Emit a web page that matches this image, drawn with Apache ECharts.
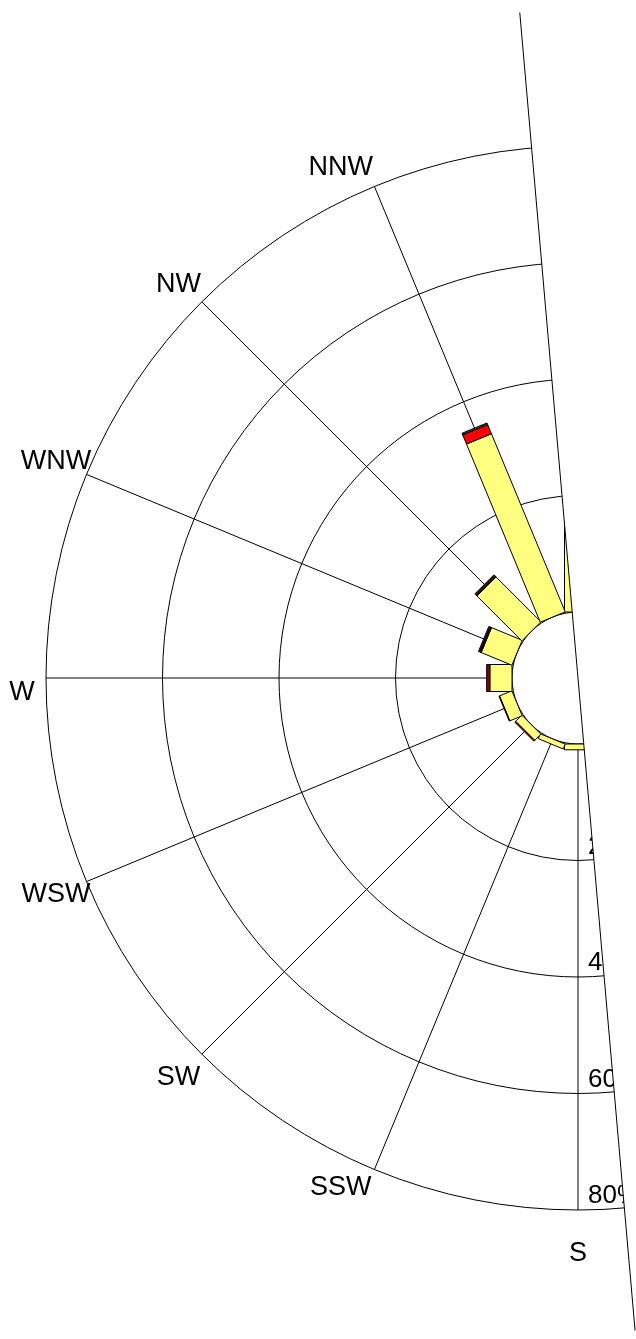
<!DOCTYPE html>
<html><head><meta charset="utf-8">
<script src="https://cdn.jsdelivr.net/npm/echarts@6/dist/echarts.min.js"></script>
<style>html,body{margin:0;padding:0;background:#fff}#c{width:636px;height:1339px}</style>
</head><body><div id="c"></div>
<script>
// ---- data ----
const directions = ['N','NNE','NE','ENE','E','ESE','SE','SSE','S','SSW','SW','WSW','W','WNW','NW','NNW'];
const binNames = ['bin 1','bin 2','bin 3','bin 4'];
const binYellow  = [18, 0, 0, 0, 0, 0, 0, 0, 1.0, 0.9, 1.5, 2.3, 3.8, 5.7, 10.9, 33.1];
const binDarkRed = [0,  0, 0, 0, 0, 0, 0, 0, 0,   0,   0,   0,   0.55,0.1, 0.1,  0];
const binRed     = [0,  0, 0, 0, 0, 0, 0, 0, 0,   0,   0.2, 0.1, 0,   0.2, 0.2,  1.7];
const binGreen   = [0,  0, 0, 0, 0, 0, 0, 0, 0,   0,   0,   0,   0,   0.2, 0.2,  0.3];
const ringTicks  = [20, 40, 60, 80];
const ringLabels = ['20', '40', '60', '80%'];

// ---- styles / layout ----
const bins = [binYellow, binDarkRed, binRed, binGreen];
const binColors = ['#FFFF80', '#8B0000', '#FF0000', '#1E5A28'];
const CX = 578, CY = 678, R0 = 66, R1 = 532, RLAB = 565;
const FONT = "'Liberation Sans', Arial, sans-serif";
const labelNudge = { NNW: [-21, 12], SSW: [-21, -12], W: [9, 15], S: [0, 11], NW: [0, 6] };
const halfWidth = 13.5;

function barSeries(k) {
  const data = [];
  directions.forEach((d, i) => {
    let base = 0;
    for (let j = 0; j < k; j++) base += bins[j][i];
    const v = bins[k][i];
    if (v > 0) data.push([i * 22.5, base, base + v]);
  });
  return {
    type: 'custom', coordinateSystem: 'polar', polarIndex: 0, name: binNames[k], z: 3,
    encode: { angle: 0, radius: [1, 2] },
    data,
    renderItem(params, api) {
      const ang = api.value(0), a = api.value(1), b = api.value(2);
      const cs = params.coordSys;
      const p0 = api.coord([a, ang]), p1 = api.coord([b, ang]);
      let ux = p1[0] - cs.cx, uy = p1[1] - cs.cy;
      const L = Math.hypot(ux, uy); ux /= L; uy /= L;
      const nx = -uy * halfWidth, ny = ux * halfWidth;
      return {
        type: 'polygon',
        shape: { points: [[p0[0] + nx, p0[1] + ny], [p1[0] + nx, p1[1] + ny], [p1[0] - nx, p1[1] - ny], [p0[0] - nx, p0[1] - ny]] },
        style: { fill: binColors[k], stroke: '#000', lineWidth: 1 }
      };
    }
  };
}

// clip line through center, tilted 5 degrees
const t = 5 * Math.PI / 180;
const dx = -Math.sin(t), dy = -Math.cos(t);
const topPt = [CX + dx * 668, CY + dy * 668];
const botPt = [CX - dx * 655, CY - dy * 655];
const ext = (y) => CX + (y - CY) * (dx / dy);
const clipPoly = [[ext(-20), -20], [700, -20], [700, 1360], [ext(1360), 1360]];

const hidden = { axisLine: { show: false }, axisTick: { show: false }, axisLabel: { show: false }, splitLine: { show: false } };

const chart = echarts.init(document.getElementById('c'), null, { renderer: 'canvas' });
chart.setOption({
  animation: false,
  backgroundColor: '#fff',
  polar: [
    { center: [CX, CY], radius: [R0, R1] },
    { center: [CX, CY], radius: [0, RLAB] }
  ],
  angleAxis: [
    {
      polarIndex: 0, type: 'value', min: 0, max: 360, interval: 22.5, startAngle: 90, clockwise: true,
      axisLine: { show: false }, axisTick: { show: false }, axisLabel: { show: false },
      splitLine: { show: true, lineStyle: { color: '#000', width: 1 } }
    },
    Object.assign({ polarIndex: 1, type: 'value', min: 0, max: 360, startAngle: 90, clockwise: true }, hidden)
  ],
  radiusAxis: [
    {
      polarIndex: 0, type: 'value', min: 0, max: 80, interval: 20,
      axisLine: { show: false }, axisTick: { show: false }, axisLabel: { show: false },
      splitLine: { show: true, lineStyle: { color: '#000', width: 1 } }
    },
    Object.assign({ polarIndex: 1, type: 'value', min: 0, max: 1 }, hidden)
  ],
  series: [
    barSeries(0), barSeries(1), barSeries(2), barSeries(3),
    {
      type: 'scatter', coordinateSystem: 'polar', polarIndex: 1, symbolSize: 0, silent: true, z: 4,
      itemStyle: { opacity: 1 },
      data: directions.map((d, i) => ({ value: [1, i * 22.5], name: d, label: { offset: labelNudge[d] || [0, 0] } })),
      label: { show: true, position: 'inside', formatter: p => p.name, fontSize: 27, color: '#000', fontFamily: FONT }
    },
    {
      type: 'scatter', coordinateSystem: 'polar', polarIndex: 0, symbolSize: 0, silent: true, z: 4,
      itemStyle: { opacity: 1 },
      data: ringTicks.map((v, i) => ({ value: [v, 180], name: ringLabels[i] })),
      label: { show: true, position: 'inside', align: 'left', verticalAlign: 'middle', offset: [10, -14],
               formatter: p => p.name, fontSize: 26, color: '#000', fontFamily: FONT }
    }
  ],
  graphic: [
    { type: 'polygon', z: 100, silent: true, shape: { points: clipPoly }, style: { fill: '#fff' } },
    { type: 'line', z: 101, silent: true, shape: { x1: topPt[0], y1: topPt[1], x2: botPt[0], y2: botPt[1] }, style: { stroke: '#000', lineWidth: 1 } }
  ]
});
</script>
</body></html>
